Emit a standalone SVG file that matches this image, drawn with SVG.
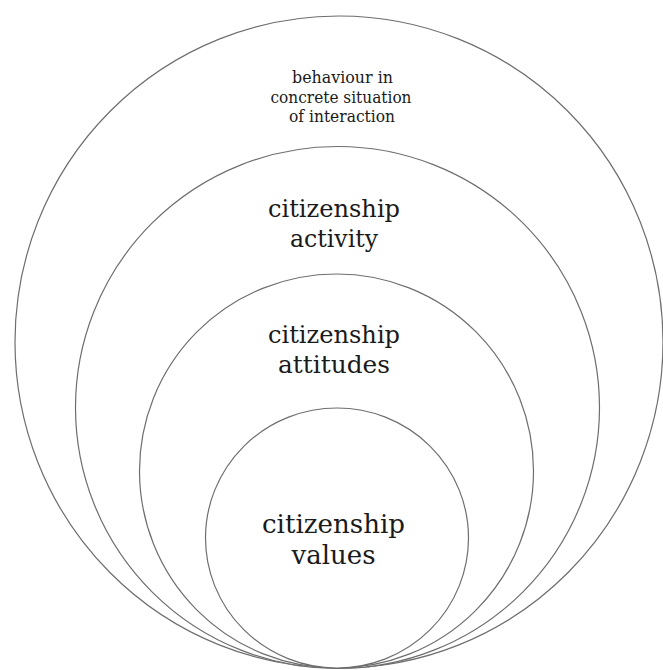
<svg xmlns="http://www.w3.org/2000/svg" width="663" height="670" viewBox="0 0 663 670">
<style>
.ring{fill:#ffffff;stroke:#6e6e6e;stroke-width:1.2}
.lbl{font-family:"DejaVu Serif","Liberation Serif",serif;fill:#1a1a1a;text-anchor:middle}
.big{font-size:24px}
.small{font-size:16px}
</style>
<rect width="663" height="670" fill="#ffffff"/>
<g id="behaviour">
<ellipse class="ring" cx="339" cy="342" rx="324" ry="326"/>
<text class="lbl small" x="342.5" y="82.5" textLength="101" lengthAdjust="spacingAndGlyphs">behaviour in</text>
<text class="lbl small" x="341" y="102.5" textLength="141" lengthAdjust="spacingAndGlyphs">concrete situation</text>
<text class="lbl small" x="342" y="122" textLength="106" lengthAdjust="spacingAndGlyphs">of interaction</text>
</g>
<g id="activity">
<ellipse class="ring" cx="337.5" cy="407.5" rx="262" ry="261"/>
<text class="lbl big" x="334" y="216.5" textLength="132" lengthAdjust="spacingAndGlyphs">citizenship</text>
<text class="lbl big" x="334" y="246.5" textLength="88" lengthAdjust="spacingAndGlyphs">activity</text>
</g>
<g id="attitudes">
<ellipse class="ring" cx="336.5" cy="471" rx="197" ry="197"/>
<text class="lbl big" x="334" y="343" textLength="132" lengthAdjust="spacingAndGlyphs">citizenship</text>
<text class="lbl big" x="334" y="373" textLength="112" lengthAdjust="spacingAndGlyphs">attitudes</text>
</g>
<g id="values">
<ellipse class="ring" cx="337" cy="538" rx="131.5" ry="130"/>
<text class="lbl" style="font-size:26px" x="333.5" y="533" textLength="143" lengthAdjust="spacingAndGlyphs">citizenship</text>
<text class="lbl" style="font-size:26px" x="333.5" y="564">values</text>
</g>
<g id="connectors"></g>
</svg>
